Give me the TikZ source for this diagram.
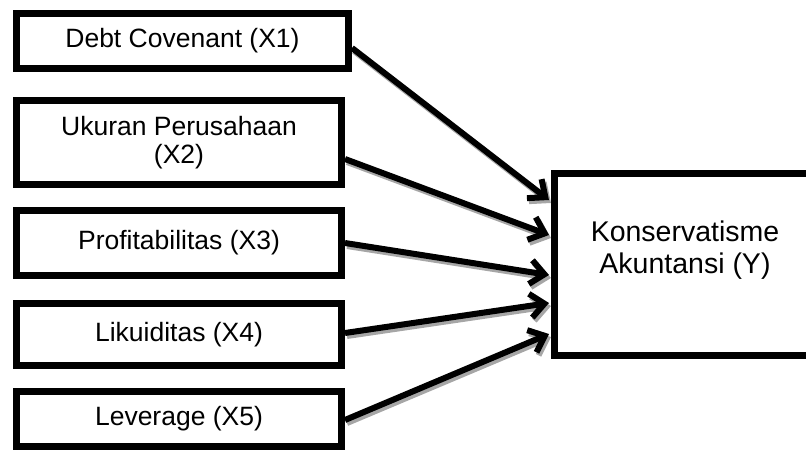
\documentclass[tikz,border=0pt]{standalone}
\usepackage{fontspec}
\setmainfont{Liberation Sans}
\usetikzlibrary{arrows.meta}
\tikzset{
  varbox/.style={draw=black, line width=7pt, fill=white, rectangle, inner sep=0pt,
    align=center, font=\fontsize{26.5}{28}\selectfont},
  arr/.style={line width=6pt, -{Straight Barb[length=14pt,width=24pt]}},
  arrshadow/.style={line width=6pt, draw=black!35, -{Straight Barb[length=14pt,width=24pt]}},
}
\begin{document}
\begin{tikzpicture}[x=1pt,y=-1pt]
\useasboundingbox (0,0) rectangle (806,450);
\clip (0,0) rectangle (806,450);
\node[varbox, minimum width=332pt, minimum height=55pt] (x1) at (182.5,41) {Debt Covenant (X1)};
\node[varbox, minimum width=325pt, minimum height=84pt] (x2) at (179,142.5) {Ukuran Perusahaan\\(X2)};
\node[varbox, minimum width=325pt, minimum height=65pt] (x3) at (179,243) {Profitabilitas (X3)};
\node[varbox, minimum width=325pt, minimum height=62pt] (x4) at (179,334.5) {Likuiditas (X4)};
\node[varbox, minimum width=325pt, minimum height=55pt] (x5) at (179,419) {Leverage (X5)};
\node[varbox, minimum width=259pt, minimum height=182pt] (y) at (684,264.5) {};
\node[align=center, font=\fontsize{28.5}{32}\selectfont, inner sep=0pt] (ytext) at (685,250) {Konservatisme\\Akuntansi (Y)};
% shadows
\begin{scope}[transform canvas={shift={(2pt,-3pt)}}]
\draw[arrshadow] ([yshift=-7pt]x1.east) -- ([xshift=-2pt,yshift=64.5pt]y.west);
\draw[arrshadow] ([yshift=-16.5pt]x2.east) -- ([xshift=-2pt,yshift=29.5pt]y.west);
\draw[arrshadow] (x3.east) -- ([xshift=-2pt,yshift=-10.5pt]y.west);
\draw[arrshadow] ([yshift=1.5pt]x4.east) -- ([xshift=-2pt,yshift=-38.5pt]y.west);
\draw[arrshadow] ([yshift=-1pt]x5.east) -- ([xshift=-2pt,yshift=-69.5pt]y.west);
\end{scope}
% arrows
\draw[arr] ([yshift=-7pt]x1.east) -- ([xshift=-2pt,yshift=64.5pt]y.west);
\draw[arr] ([yshift=-16.5pt]x2.east) -- ([xshift=-2pt,yshift=29.5pt]y.west);
\draw[arr] (x3.east) -- ([xshift=-2pt,yshift=-10.5pt]y.west);
\draw[arr] ([yshift=1.5pt]x4.east) -- ([xshift=-2pt,yshift=-38.5pt]y.west);
\draw[arr] ([yshift=-1pt]x5.east) -- ([xshift=-2pt,yshift=-69.5pt]y.west);
\end{tikzpicture}
\end{document}
